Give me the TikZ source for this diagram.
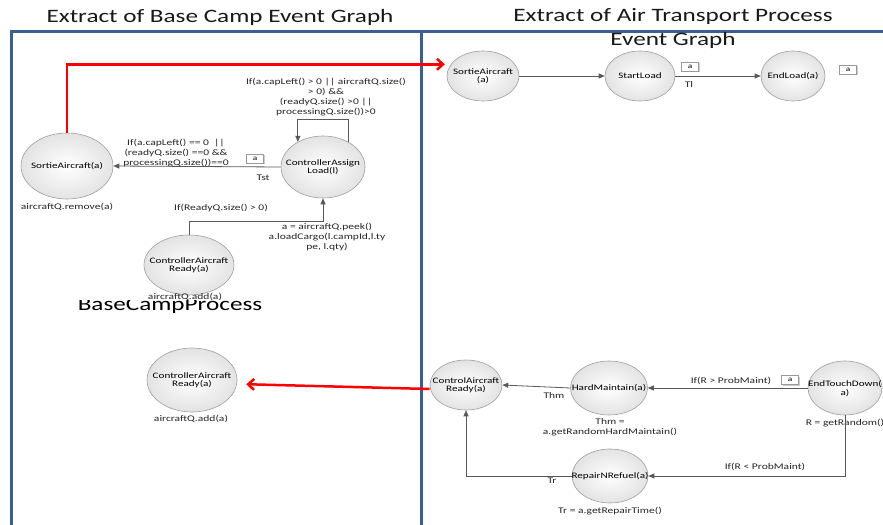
\documentclass[tikz,border=0pt]{standalone}
\usepackage{fontspec}
\setmainfont{Carlito}
\newfontfamily\wide[FakeStretch=1.33]{Carlito}
\usetikzlibrary{shapes.geometric,arrows.meta,shadows}
\definecolor{framec}{HTML}{3A5F91}
\definecolor{connc}{HTML}{595959}
\newcommand{\evtext}[1]{\makebox[0pt][c]{\smash{\raisebox{-3bp}{\renewcommand{\arraystretch}{0.85}\begin{tabular}{@{}c@{}}#1\end{tabular}}}}}
\begin{document}
\begin{tikzpicture}[x=1bp,y=-1bp,
  ev/.style={ellipse,draw=gray!75,line width=0.6bp,inner sep=0pt,
    shading=radial,inner color=white,outer color=gray!22,
    font=\wide\fontsize{8.4}{9.5}\selectfont},
  conn/.style={draw=connc,line width=0.8bp,-{Triangle[length=6bp,width=5bp]}},
  redarr/.style={draw=red,line width=2.5bp,-{Straight Barb[length=6bp,width=11bp]}},
  lbl/.style={font=\wide\fontsize{8.7}{10}\selectfont,align=center,inner sep=0pt,text=black!85},
  abox/.style={draw=gray!80,fill=white,drop shadow={shadow xshift=1bp,shadow yshift=-1bp,opacity=0.4},
    minimum width=17bp,minimum height=9bp,inner sep=0pt,font=\wide\fontsize{7}{8}\selectfont},
  title/.style={font=\wide\fontsize{19}{22}\selectfont,inner sep=0pt,text=black!90},
  frameline/.style={draw=framec,line width=3bp}]
\useasboundingbox (0,0) rectangle (883,525);
\fill[white] (0,0) rectangle (883,525);
% frames
\coordinate (f1) at (10,32);
\coordinate (f2) at (883,32);
\coordinate (f3) at (11,525);
\coordinate (f4) at (421,32);
\coordinate (f5) at (421,525);
\draw[frameline] (f1) -- (f2);
\draw[frameline] (11,31) -- (f3);
\draw[frameline] (f4) -- (f5);
% titles
\node[title] (t1) at (220,17) {Extract of Base Camp Event Graph};
\node[title] (t2) at (673,17) {Extract of Air Transport Process};
\node[title] (t3) at (673,40) {Event Graph};
% BaseCampProcess (top clipped)
\begin{scope}
\clip (60,301) rectangle (300,320);
\node[font=\wide\fontsize{19}{22}\selectfont,inner sep=0pt,anchor=base] (bcp) at (170,311) {BaseCampProcess};
\end{scope}
% left nodes
\node[ev,minimum width=92bp,minimum height=66bp] (sortL) at (67,166) {\evtext{SortieAircraft(a)}};
\node[ev,minimum width=84bp,minimum height=62bp] (assign) at (323,167) {\evtext{ControllerAssign\\Load(l)}};
\node[ev,minimum width=90bp,minimum height=60bp] (readyU) at (189,265) {\evtext{ControllerAircraft\\Ready(a)}};
\node[ev,minimum width=90bp,minimum height=64bp] (readyL) at (192,380) {\evtext{ControllerAircraft\\Ready(a)}};
% right nodes
\node[ev,minimum width=72bp,minimum height=50bp] (sortR) at (483,76) {\evtext{SortieAircraft\\(a)}};
\node[ev,minimum width=70bp,minimum height=50bp] (start) at (640,76) {\evtext{StartLoad}};
\node[ev,minimum width=64bp,minimum height=50bp] (endl) at (793,76) {\evtext{EndLoad(a)}};
\node[ev,minimum width=72bp,minimum height=50bp] (ctrlR) at (466,385) {\evtext{ControlAircraft\\Ready(a)}};
\node[ev,minimum width=77bp,minimum height=54bp] (hard) at (609,388) {\evtext{HardMaintain(a)}};
\node[ev,minimum width=74bp,minimum height=54bp] (etd) at (845,388) {\evtext{EndTouchDown(\\a)}};
\node[ev,minimum width=76bp,minimum height=54bp] (repair) at (610,476) {\evtext{RepairNRefuel(a)}};
% left labels
\node[lbl] (l1) at (67,207) {aircraftQ.remove(a)};
\node[lbl] (l2) at (326,97) {If(a.capLeft() > 0 || aircraftQ.size()\\> 0) \&\&\\(readyQ.size() >0 ||\\processingQ.size())>0};
\node[lbl] (l3) at (176,153) {If(a.capLeft() == 0 \ ||\\(readyQ.size() ==0 \&\&\\processingQ.size())==0};
\node[abox] (ab1) at (255,159) {a};
\node[lbl] (l4) at (263,178) {Tst};
\node[lbl] (l5) at (221,208) {If(ReadyQ.size() > 0)};
\node[lbl] (l6) at (327,237) {a = aircraftQ.peek()\\a.loadCargo(l.campId,l.ty\\pe, l.qty)};
\node[lbl] (l7) at (185,297) {aircraftQ.add(a)};
\node[lbl] (l8) at (191,419) {aircraftQ.add(a)};
% right labels
\node[abox] (ab2) at (690,67) {a};
\node[lbl] (l9) at (689,84) {Tl};
\node[abox] (ab3) at (848,70) {a};
\node[lbl] (l10) at (731,381) {If(R > ProbMaint)};
\node[abox] (ab4) at (790,380) {a};
\node[lbl] (l11) at (554,395) {Thm};
\node[lbl] (l12) at (610,427) {Thm =\\a.getRandomHardMaintain()};
\node[lbl] (l13) at (845,423) {R = getRandom()};
\node[lbl] (l14) at (765,467) {If(R < ProbMaint)};
\node[lbl] (l15) at (552,481) {Tr};
\node[lbl] (l16) at (610,511) {Tr = a.getRepairTime()};
% connectors left
\draw[conn] (assign.west) -- (sortL.east);
\draw[conn] (assign.45) -- (assign.45 |- 0,119) -| (assign.135);
\draw[conn] (readyU.north) -- ++(0,-13) -| (assign.south);
% connectors right
\draw[conn] (sortR.east) -- (start.west);
\draw[conn] (start.east) -- (endl.west);
\draw[conn] (etd.west) -- (hard.east);
\draw[conn] (hard.west) -- (ctrlR.east);
\draw[conn] (etd.south) |- (repair.east);
\draw[conn] (repair.west) -| (ctrlR.south);
% red cross links
\draw[redarr,shorten >=6bp] (sortL.north) |- (sortR.160);
\draw[redarr,shorten >=9bp] ([yshift=-4bp]ctrlR.west) -- ([yshift=-4bp]readyL.east);
\end{tikzpicture}
\end{document}
